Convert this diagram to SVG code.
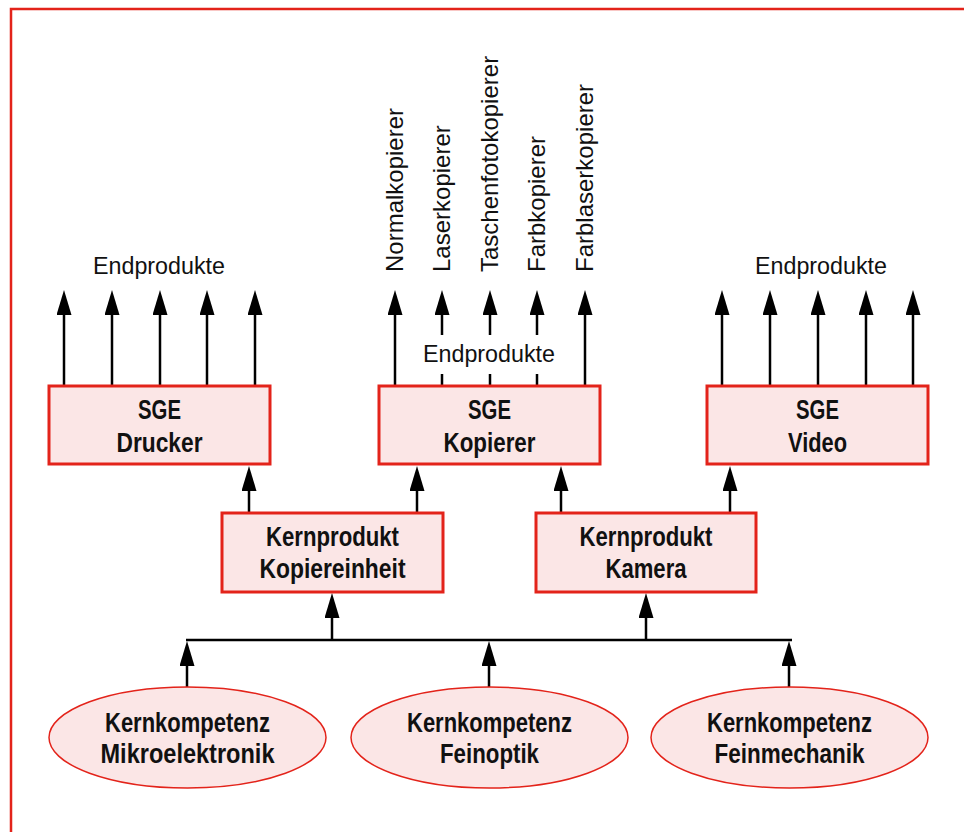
<svg xmlns="http://www.w3.org/2000/svg" width="964" height="832" viewBox="0 0 964 832">
<defs>
<marker id="ah" markerWidth="25" markerHeight="15" refX="0" refY="7.5" orient="auto" markerUnits="userSpaceOnUse" viewBox="0 0 25 15">
<path d="M0,0 L25,7.5 L0,15 Z" fill="#000"/>
</marker>
<style>
.box{fill:#fbe6e6;stroke:#e3231a;stroke-width:3}
.ell{fill:#fbe6e6;stroke:#e3231a;stroke-width:1.5}
.b{font-family:"Liberation Sans Narrow","Liberation Sans",Arial,sans-serif;font-weight:bold;font-size:27px;text-anchor:middle;fill:#111}
.r{font-family:"Liberation Sans",Arial,sans-serif;font-size:23px;fill:#111}
.v{font-size:24px}
.c{text-anchor:middle}
.ln{stroke:#000;stroke-width:2.5;fill:none}
.ar{stroke:#000;stroke-width:2.5;fill:none}
</style>
</defs>
<rect width="964" height="832" fill="#fff"/>
<path d="M11,832 V9 H964" fill="none" stroke="#e3231a" stroke-width="2.5"/>

<g id="connectors">
<path class="ar" d="M64,386 V315" marker-end="url(#ah)"/>
<path class="ar" d="M112,386 V315" marker-end="url(#ah)"/>
<path class="ar" d="M160,386 V315" marker-end="url(#ah)"/>
<path class="ar" d="M207,386 V315" marker-end="url(#ah)"/>
<path class="ar" d="M255,386 V315" marker-end="url(#ah)"/>
<path class="ar" d="M395,386 V315" marker-end="url(#ah)"/>
<path class="ar" d="M442,335 V315" marker-end="url(#ah)"/>
<path class="ar" d="M490,335 V315" marker-end="url(#ah)"/>
<path class="ar" d="M537,335 V315" marker-end="url(#ah)"/>
<path class="ar" d="M585,386 V315" marker-end="url(#ah)"/>
<path class="ln" d="M442,374 V386 M490,374 V386 M537,374 V386"/>
<path class="ar" d="M722,386 V315" marker-end="url(#ah)"/>
<path class="ar" d="M770,386 V315" marker-end="url(#ah)"/>
<path class="ar" d="M818,386 V315" marker-end="url(#ah)"/>
<path class="ar" d="M866,386 V315" marker-end="url(#ah)"/>
<path class="ar" d="M913,386 V315" marker-end="url(#ah)"/>
<path class="ar" d="M249,513 V491" marker-end="url(#ah)"/>
<path class="ar" d="M417,513 V491" marker-end="url(#ah)"/>
<path class="ar" d="M561,513 V491" marker-end="url(#ah)"/>
<path class="ar" d="M730,513 V491" marker-end="url(#ah)"/>
<path class="ln" d="M186,640 H792"/>
<path class="ar" d="M332,640 V618" marker-end="url(#ah)"/>
<path class="ar" d="M646,640 V618" marker-end="url(#ah)"/>
<path class="ar" d="M187,687 V666" marker-end="url(#ah)"/>
<path class="ar" d="M489,687 V666" marker-end="url(#ah)"/>
<path class="ar" d="M789,687 V666" marker-end="url(#ah)"/>
</g>

<g id="labels">
<text class="r c" x="159" y="274" textLength="132" lengthAdjust="spacingAndGlyphs">Endprodukte</text>
<text class="r c" x="489" y="362" textLength="132" lengthAdjust="spacingAndGlyphs">Endprodukte</text>
<text class="r c" x="821" y="274" textLength="132" lengthAdjust="spacingAndGlyphs">Endprodukte</text>
<text class="r v" x="403" y="272" transform="rotate(-90 403 272)">Normalkopierer</text>
<text class="r v" x="450" y="272" transform="rotate(-90 450 272)">Laserkopierer</text>
<text class="r v" x="498" y="272" transform="rotate(-90 498 272)">Taschenfotokopierer</text>
<text class="r v" x="545" y="272" transform="rotate(-90 545 272)">Farbkopierer</text>
<text class="r v" x="593" y="272" transform="rotate(-90 593 272)">Farblaserkopierer</text>
</g>

<g id="sge-drucker">
<rect class="box" x="49" y="386" width="221" height="78"/>
<text class="b" x="159.5" y="419" textLength="43" lengthAdjust="spacingAndGlyphs">SGE</text>
<text class="b" x="159.5" y="452" textLength="86" lengthAdjust="spacingAndGlyphs">Drucker</text>
</g>
<g id="sge-kopierer">
<rect class="box" x="379" y="386" width="221" height="78"/>
<text class="b" x="489.5" y="419" textLength="43" lengthAdjust="spacingAndGlyphs">SGE</text>
<text class="b" x="489.5" y="452" textLength="92" lengthAdjust="spacingAndGlyphs">Kopierer</text>
</g>
<g id="sge-video">
<rect class="box" x="707" y="386" width="221" height="78"/>
<text class="b" x="817.5" y="419" textLength="43" lengthAdjust="spacingAndGlyphs">SGE</text>
<text class="b" x="817.5" y="452" textLength="59" lengthAdjust="spacingAndGlyphs">Video</text>
</g>
<g id="kp-kopiereinheit">
<rect class="box" x="222" y="513" width="221" height="79"/>
<text class="b" x="332.5" y="546" textLength="133" lengthAdjust="spacingAndGlyphs">Kernprodukt</text>
<text class="b" x="332.5" y="578" textLength="146" lengthAdjust="spacingAndGlyphs">Kopiereinheit</text>
</g>
<g id="kp-kamera">
<rect class="box" x="536" y="513" width="220" height="79"/>
<text class="b" x="646" y="546" textLength="133" lengthAdjust="spacingAndGlyphs">Kernprodukt</text>
<text class="b" x="646" y="578" textLength="81" lengthAdjust="spacingAndGlyphs">Kamera</text>
</g>
<g id="kk-mikroelektronik">
<ellipse class="ell" cx="187.5" cy="737.5" rx="138.5" ry="50.5"/>
<text class="b" x="187.5" y="732" textLength="165" lengthAdjust="spacingAndGlyphs">Kernkompetenz</text>
<text class="b" x="187.5" y="763" textLength="174" lengthAdjust="spacingAndGlyphs">Mikroelektronik</text>
</g>
<g id="kk-feinoptik">
<ellipse class="ell" cx="489.5" cy="737.5" rx="138.5" ry="50.5"/>
<text class="b" x="489.5" y="732" textLength="165" lengthAdjust="spacingAndGlyphs">Kernkompetenz</text>
<text class="b" x="489.5" y="763" textLength="99" lengthAdjust="spacingAndGlyphs">Feinoptik</text>
</g>
<g id="kk-feinmechanik">
<ellipse class="ell" cx="789.5" cy="737.5" rx="138.5" ry="50.5"/>
<text class="b" x="789.5" y="732" textLength="165" lengthAdjust="spacingAndGlyphs">Kernkompetenz</text>
<text class="b" x="789.5" y="763" textLength="150" lengthAdjust="spacingAndGlyphs">Feinmechanik</text>
</g>
</svg>
